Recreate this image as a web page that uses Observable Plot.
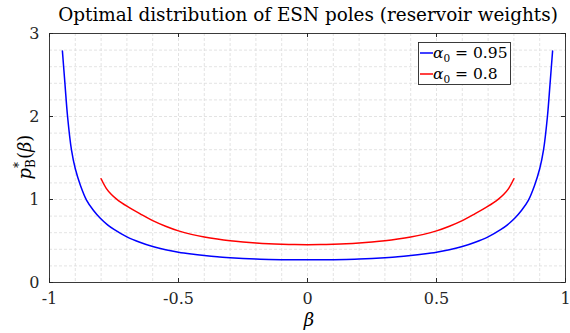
<!DOCTYPE html>
<html><head><meta charset="utf-8">
<script src="https://cdn.jsdelivr.net/npm/d3@7"></script>
<script src="https://cdn.jsdelivr.net/npm/@observablehq/plot@0.6"></script>
<style>body{margin:0;background:#fff} svg{display:block}</style>
</head><body><div id="chart"></div>
<script>
const titleText = "Optimal distribution of ESN poles (reservoir weights)";
const xTicks = [-1, -0.5, 0, 0.5, 1];
const yTicks = [0, 1, 2, 3];
const blueName = "0.95";
const redName = "0.8";
const blueBeta = [-0.95,-0.94,-0.93,-0.915,-0.9,-0.88,-0.856,-0.83,-0.805,-0.775,-0.75,-0.7,-0.65,-0.6,-0.55,-0.5,-0.45,-0.4,-0.35,-0.3,-0.25,-0.2,-0.15,-0.1,-0.05,0,
  0.05,0.1,0.15,0.2,0.25,0.3,0.35,0.4,0.45,0.5,0.55,0.6,0.65,0.7,0.75,0.775,0.805,0.83,0.856,0.88,0.9,0.915,0.93,0.94,0.95];
const blueP = [2.79,2.39,2.0,1.6,1.37,1.17,0.99,0.87,0.78,0.695,0.64,0.55,0.485,0.433,0.395,0.365,0.343,0.325,0.31,0.299,0.29,0.283,0.278,0.275,0.273,0.273,
  0.273,0.275,0.278,0.283,0.29,0.299,0.31,0.325,0.343,0.365,0.395,0.433,0.485,0.55,0.64,0.695,0.78,0.87,0.99,1.17,1.37,1.6,2.0,2.39,2.79];
const redBeta = [-0.8,-0.78,-0.76,-0.74,-0.72,-0.7,-0.65,-0.6,-0.55,-0.5,-0.45,-0.4,-0.35,-0.3,-0.25,-0.2,-0.15,-0.1,-0.05,0,
  0.05,0.1,0.15,0.2,0.25,0.3,0.35,0.4,0.45,0.5,0.55,0.6,0.65,0.7,0.72,0.74,0.76,0.78,0.8];
const redP = [1.25,1.135,1.06,1.005,0.96,0.92,0.83,0.745,0.678,0.622,0.58,0.548,0.523,0.503,0.488,0.476,0.467,0.461,0.457,0.456,
  0.457,0.461,0.467,0.476,0.488,0.503,0.523,0.548,0.58,0.622,0.678,0.745,0.83,0.92,0.96,1.005,1.06,1.135,1.25];

const blue = blueBeta.map((b, i) => ({b, p: blueP[i]}));
const red = redBeta.map((b, i) => ({b, p: redP[i]}));
const xGrid = d3.range(-9, 10).map(d => d / 10);
const yGrid = d3.range(1, 15).map(d => d / 5);
const FONT = "DejaVu Serif";
const W = 570, H = 333, ML = 49, MR = 5, MT = 33, MB = 51;
const PW = W - ML - MR, PH = H - MT - MB;

const chart = Plot.plot({
  width: W, height: H,
  marginLeft: ML, marginRight: MR, marginTop: MT, marginBottom: MB,
  style: {fontFamily: FONT, fontSize: "16px", color: "#262626", background: "#fff"},
  x: {domain: [-1, 1], label: null},
  y: {domain: [0, 3], label: null},
  marks: [
    Plot.ruleX(xGrid, {stroke: "#dcdcdc", strokeDasharray: "3,2", strokeWidth: 0.8}),
    Plot.ruleY(yGrid, {stroke: "#dcdcdc", strokeDasharray: "3,2", strokeWidth: 0.8}),
    Plot.line(blue, {x: "b", y: "p", stroke: "#0000ff", strokeWidth: 1.5, curve: "catmull-rom"}),
    Plot.line(red, {x: "b", y: "p", stroke: "#ff0000", strokeWidth: 1.5, curve: "catmull-rom"}),
    Plot.ruleX(xTicks, {stroke: "#262626", insetTop: PH - 4}),
    Plot.ruleX(xTicks, {stroke: "#262626", insetBottom: PH - 4}),
    Plot.ruleY(yTicks, {stroke: "#262626", insetRight: PW - 4}),
    Plot.ruleY(yTicks, {stroke: "#262626", insetLeft: PW - 4}),
    Plot.frame({stroke: "#262626", strokeWidth: 0.9}),
    Plot.axisX(xTicks, {tickSize: 0, tickPadding: 10, tickFormat: d => String(d), fontSize: 16, label: null}),
    Plot.axisY(yTicks, {tickSize: 0, tickPadding: 10, tickFormat: d => String(d), fontSize: 16, label: null})
  ]
});
document.getElementById("chart").appendChild(chart);

const svg = d3.select(chart);
// title
const t = svg.append("text").attr("x", 308).attr("y", 21).attr("text-anchor", "middle")
  .attr("font-family", FONT).attr("font-size", 17).attr("fill", "#000").text(titleText);
const len = t.node().getComputedTextLength();
t.attr("font-size", 17 * 500 / len);

// y label
const yl = svg.append("text").attr("transform", "translate(31,157) rotate(-90)")
  .attr("text-anchor", "middle").attr("font-family", FONT).attr("font-size", 18).attr("fill", "#000");
yl.append("tspan").attr("font-style", "italic").text("p");
yl.append("tspan").attr("font-size", 12).attr("dy", -8).text("*");
yl.append("tspan").attr("font-size", 12).attr("dx", -6).attr("dy", 12).text("B");
yl.append("tspan").attr("dy", -4).text("(");
yl.append("tspan").attr("font-style", "italic").text("β");
yl.append("tspan").text(")");

// x label
svg.append("text").attr("x", 309).attr("y", 326).attr("text-anchor", "middle")
  .attr("font-family", FONT).attr("font-size", 18).attr("font-style", "italic").attr("fill", "#000").text("β");

// legend
const lg = svg.append("g").attr("text-anchor", "start");
lg.append("rect").attr("x", 418.5).attr("y", 42.5).attr("width", 92).attr("height", 42)
  .attr("fill", "#fff").attr("stroke", "#262626").attr("stroke-width", 0.9);
[[blueName, "#0000ff", 53], [redName, "#ff0000", 74]].forEach(([name, col, yy]) => {
  lg.append("line").attr("x1", 420).attr("x2", 433).attr("y1", yy).attr("y2", yy).attr("stroke", col).attr("stroke-width", 1.5);
  const tx = lg.append("text").attr("x", 433).attr("y", yy + 5).attr("text-anchor", "start")
    .attr("font-family", FONT).attr("font-size", 15.5).attr("fill", "#000");
  tx.append("tspan").attr("font-style", "italic").text("α");
  tx.append("tspan").attr("font-size", 10.5).attr("dy", 4).text("0");
  tx.append("tspan").attr("dy", -4).text(" = " + name);
});
</script></body></html>
